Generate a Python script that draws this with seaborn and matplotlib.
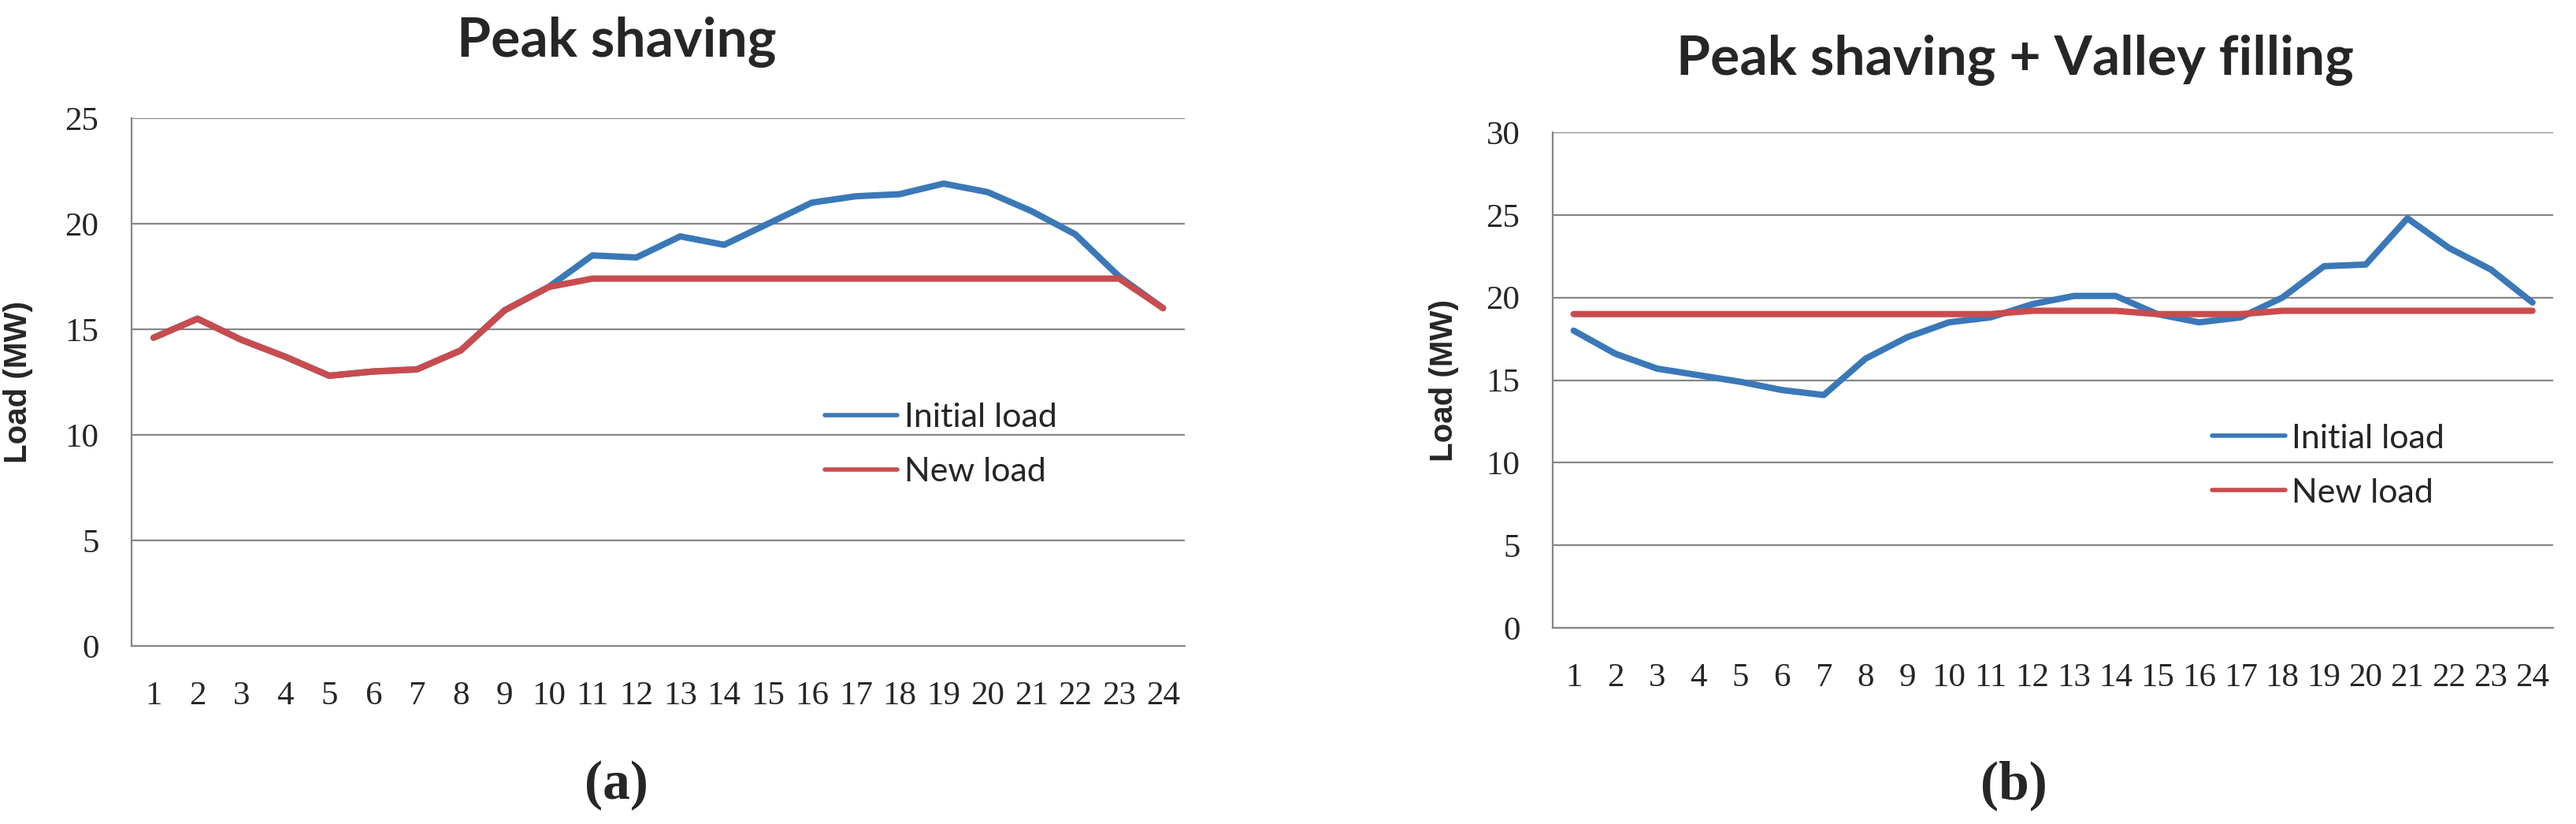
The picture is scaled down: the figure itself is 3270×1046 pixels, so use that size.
import matplotlib
matplotlib.use("Agg")
import matplotlib.pyplot as plt
import numpy as np
import pandas as pd
import seaborn as sns

# hours of the day
hours = list(range(1, 25))

# (a) peak shaving
initial_a = [14.6, 15.5, 14.5, 13.7, 12.8, 13.0, 13.1, 14.0, 15.9, 17.0, 18.5, 18.4,
             19.4, 19.0, 20.0, 21.0, 21.3, 21.4, 21.9, 21.5, 20.6, 19.5, 17.5, 16.0]
new_a = [14.6, 15.5, 14.5, 13.7, 12.8, 13.0, 13.1, 14.0, 15.9, 17.0, 17.4, 17.4,
         17.4, 17.4, 17.4, 17.4, 17.4, 17.4, 17.4, 17.4, 17.4, 17.4, 17.4, 16.0]

# (b) peak shaving + valley filling
initial_b = [18.0, 16.6, 15.7, 15.3, 14.9, 14.4, 14.1, 16.3, 17.6, 18.5, 18.8, 19.6,
             20.1, 20.1, 19.0, 18.5, 18.8, 20.0, 21.9, 22.0, 24.8, 23.0, 21.7, 19.7]
new_b = [19.0, 19.0, 19.0, 19.0, 19.0, 19.0, 19.0, 19.0, 19.0, 19.0, 19.0, 19.2,
         19.2, 19.2, 19.0, 19.0, 19.0, 19.2, 19.2, 19.2, 19.2, 19.2, 19.2, 19.2]

series_names = ["Initial load", "New load"]
titles = ["Peak shaving", "Peak shaving + Valley filling"]
panel_tags = ["(a)", "(b)"]
y_max = [25, 30]

BLUE = "#3A78B8"
RED = "#C84C4E"
GRID = "#868686"

sns.set_style("white")
plt.rcParams["font.family"] = ["Liberation Serif", "DejaVu Serif"]

fig = plt.figure(figsize=(32.7, 10.46), dpi=100)

boxes = [
    [0.0511, 0.2161, 0.4089, 0.6405],
    [0.6028, 0.2380, 0.3884, 0.6013],
]
legend_anchor = [(0.658, 0.381), (0.659, 0.3275)]
title_pos = [(0.2394, 0.9312), (0.7823, 0.9092)]
tag_pos = [(0.2394, 0.047), (0.7817, 0.047)]

panels = [(initial_a, new_a), (initial_b, new_b)]

for k, (init, new) in enumerate(panels):
    ax = fig.add_axes(boxes[k])
    df = pd.DataFrame({
        "hour": hours * 2,
        "load": init + new,
        "series": [series_names[0]] * 24 + [series_names[1]] * 24,
    })
    sns.lineplot(data=df, x="hour", y="load", hue="series",
                 palette=[BLUE, RED], linewidth=5.8, ax=ax, legend=False)

    ax.set_xlim(0.5, 24.5)
    ax.set_ylim(0, y_max[k])
    ax.set_yticks(np.arange(0, y_max[k] + 1, 5))
    ax.set_xticks(hours)
    ax.set_xticklabels([str(h) for h in hours])
    ax.tick_params(axis="both", length=0, labelsize=31, pad=30)
    ax.tick_params(axis="x", pad=32)

    ax.yaxis.grid(True, color=GRID, linewidth=1.6)
    ax.xaxis.grid(False)
    ax.set_axisbelow(True)
    for side in ["top", "right"]:
        ax.spines[side].set_visible(False)
    for side in ["left", "bottom"]:
        ax.spines[side].set_color(GRID)
        ax.spines[side].set_linewidth(1.6)

    ax.set_xlabel("")
    ax.set_ylabel("Load (MW)", fontsize=29, fontweight="bold",
                  family="Liberation Sans")
    ax.yaxis.set_label_coords(-0.0935, 0.5)

    handles = [plt.Line2D([], [], color=BLUE, linewidth=4),
               plt.Line2D([], [], color=RED, linewidth=4)]
    ax.legend(handles, series_names, loc="center left",
              bbox_to_anchor=legend_anchor[k], frameon=False,
              prop={"family": "Lato", "size": 31},
              handlelength=2.15, handletextpad=0.2, labelspacing=0.72,
              borderpad=0, borderaxespad=0)

    fig.text(title_pos[k][0], title_pos[k][1], titles[k], ha="center",
             va="baseline", fontsize=50, fontweight="bold", family="Lato")
    fig.text(tag_pos[k][0], tag_pos[k][1], panel_tags[k], ha="center",
             va="center", fontsize=50, fontweight="bold",
             family="Liberation Serif")

fig.savefig("out.png", dpi=100, facecolor="white")
